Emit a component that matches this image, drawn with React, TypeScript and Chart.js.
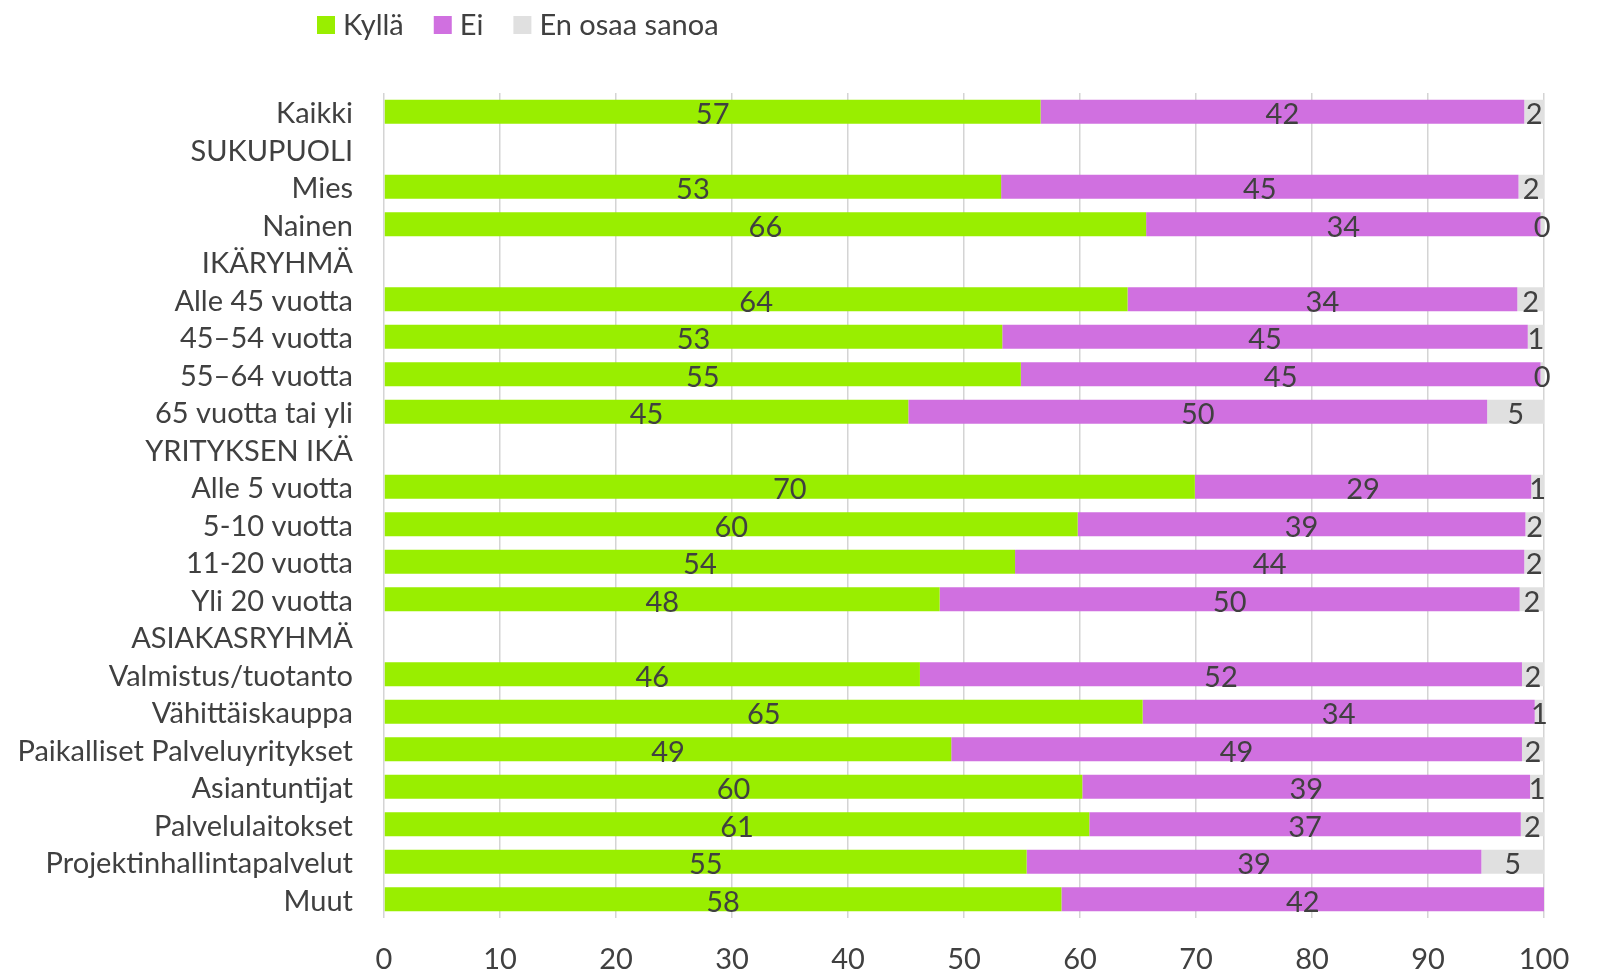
import React, { useEffect, useRef } from 'react';
import { Chart, registerables } from 'chart.js';

Chart.register(...registerables);

const categories: string[] = [
  'Kaikki',
  'SUKUPUOLI',
  'Mies',
  'Nainen',
  'IKÄRYHMÄ',
  'Alle 45 vuotta',
  '45–54 vuotta',
  '55–64 vuotta',
  '65 vuotta tai yli',
  'YRITYKSEN IKÄ',
  'Alle 5 vuotta',
  '5-10 vuotta',
  '11-20 vuotta',
  'Yli 20 vuotta',
  'ASIAKASRYHMÄ',
  'Valmistus/tuotanto',
  'Vähittäiskauppa',
  'Paikalliset Palveluyritykset',
  'Asiantuntijat',
  'Palvelulaitokset',
  'Projektinhallintapalvelut',
  'Muut',
];

const seriesNames: string[] = ['Kyllä', 'Ei', 'En osaa sanoa'];

const kylla: (number | null)[] = [
  56.6, null, 53.2, 65.7, null, 64.1, 53.3, 54.9, 45.2, null, 69.9, 59.8, 54.4, 47.9, null, 46.2, 65.4, 48.9, 60.2, 60.8, 55.4, 58.4,
];
const ei: (number | null)[] = [
  41.7, null, 44.6, 34.0, null, 33.6, 45.3, 44.8, 49.9, null, 29.0, 38.6, 43.9, 50.0, null, 51.9, 33.8, 49.2, 38.6, 37.2, 39.2, 41.6,
];
const enOsaa: (number | null)[] = [
  1.7, null, 2.2, 0.3, null, 2.3, 1.4, 0.3, 4.9, null, 1.1, 1.6, 1.7, 2.1, null, 1.9, 0.8, 1.9, 1.2, 2.0, 5.4, null,
];

const xTicks: number[] = [0, 10, 20, 30, 40, 50, 60, 70, 80, 90, 100];

const colors = ['#99EE00', '#D070E0', '#E0E0E0'];
const FONT = 'Lato';
const TEXT = '#404040';
const FONT_SIZE = 29;

const valueLabels = {
  id: 'valueLabels',
  afterDatasetsDraw(chart: any) {
    const ctx = chart.ctx;
    ctx.save();
    ctx.font = `${FONT_SIZE}px ${FONT}`;
    ctx.fillStyle = TEXT;
    ctx.textAlign = 'center';
    ctx.textBaseline = 'middle';
    chart.data.datasets.forEach((ds: any, di: number) => {
      const meta = chart.getDatasetMeta(di);
      meta.data.forEach((el: any, i: number) => {
        const v = ds.data[i];
        if (v == null) return;
        const x = (el.x + el.base) / 2;
        ctx.fillText(String(Math.round(v)), x, el.y + 3);
      });
    });
    ctx.restore();
  },
};

const customLegend = {
  id: 'customLegend',
  afterDraw(chart: any) {
    const ctx = chart.ctx;
    ctx.save();
    ctx.font = `${FONT_SIZE}px ${FONT}`;
    ctx.textBaseline = 'middle';
    ctx.textAlign = 'left';
    let x = 317;
    const boxTop = 16;
    const box = 18;
    const cy = 26;
    chart.data.datasets.forEach((ds: any) => {
      ctx.fillStyle = ds.backgroundColor;
      ctx.fillRect(x, boxTop, box, box);
      x += box + 8;
      ctx.fillStyle = TEXT;
      ctx.fillText(ds.label, x, cy);
      x += ctx.measureText(ds.label).width + 30;
    });
    ctx.restore();
  },
};

export default function App() {
  const ref = useRef<HTMLCanvasElement | null>(null);

  useEffect(() => {
    if (!ref.current) return;
    Chart.defaults.font.family = FONT;
    Chart.defaults.color = TEXT;
    const chart = new Chart(ref.current, {
      type: 'bar',
      data: {
        labels: categories,
        datasets: [
          { label: seriesNames[0], data: kylla, backgroundColor: colors[0] },
          { label: seriesNames[1], data: ei, backgroundColor: colors[1] },
          { label: seriesNames[2], data: enOsaa, backgroundColor: colors[2] },
        ] as any,
      },
      options: {
        indexAxis: 'y',
        animation: false,
        responsive: false,
        maintainAspectRatio: false,
        layout: { padding: { left: 0, top: 93, right: 54, bottom: 0 } },
        datasets: {
          bar: { categoryPercentage: 0.8, barPercentage: 0.8 },
        } as any,
        plugins: {
          legend: { display: false },
          tooltip: { enabled: false },
        },
        scales: {
          x: {
            stacked: true,
            min: 0,
            max: 100,
            afterBuildTicks: (scale: any) => {
              scale.ticks = xTicks.map((v) => ({ value: v }));
            },
            afterFit: (scale: any) => {
              scale.height = 55;
            },
            ticks: {
              font: { size: FONT_SIZE, family: FONT },
              color: TEXT,
              padding: 24,
            },
            grid: { color: '#D4D4D4', lineWidth: 1.5, drawTicks: false },
            border: { display: false },
          },
          y: {
            stacked: true,
            afterFit: (scale: any) => {
              scale.width = 384;
            },
            ticks: {
              font: { size: FONT_SIZE, family: FONT },
              color: TEXT,
              padding: 31,
              labelOffset: 2,
              autoSkip: false,
            },
            grid: { display: false, drawTicks: false },
            border: { display: false },
          },
        },
      },
      plugins: [valueLabels, customLegend],
    });
    return () => chart.destroy();
  }, []);

  return (
    <div style={{ position: 'absolute', left: 0, top: 0, width: 1598, height: 973, background: '#fff' }}>
      <canvas ref={ref} width={1598} height={973} />
    </div>
  );
}
